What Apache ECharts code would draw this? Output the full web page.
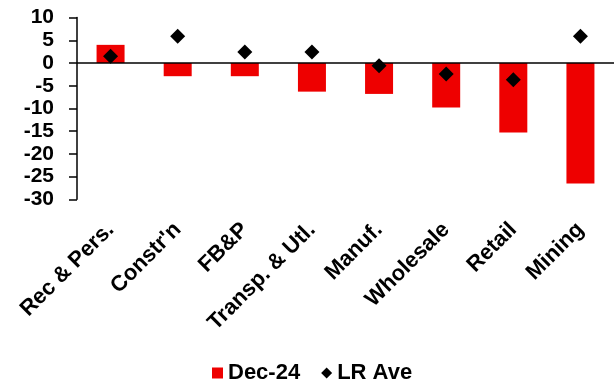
<!DOCTYPE html>
<html>
<head>
<meta charset="utf-8">
<script src="https://cdn.jsdelivr.net/npm/echarts@6/dist/echarts.min.js"></script>
<style>
html,body{margin:0;padding:0;background:#fff;}
#chart{width:614px;height:385px;}
</style>
</head>
<body>
<div id="chart"></div>
<script>
const categories = ['Rec & Pers.', "Constr'n", 'FB&P', 'Transp. & Utl.', 'Manuf.', 'Wholesale', 'Retail', 'Mining'];
const dec24 = [4.0, -2.9, -2.9, -6.3, -6.8, -9.8, -15.3, -26.5];
const lrAve = [1.5, 5.9, 2.4, 2.4, -0.6, -2.4, -3.7, 5.9];
const yMin = -30;
const yMax = 10;
const yStep = 5;

const FONT = "'Liberation Sans', Arial, sans-serif";
const chart = echarts.init(document.getElementById('chart'), null, {renderer: 'canvas'});
chart.setOption({
  animation: false,
  backgroundColor: '#fff',
  grid: {left: 77, right: 0, top: 17.6, bottom: 185.7, containLabel: false},
  legend: {
    left: 207,
    top: 357,
    itemWidth: 11,
    itemHeight: 11,
    itemGap: 21,
    textStyle: {fontFamily: FONT, fontWeight: 'bold', fontSize: 22, color: '#000'},
    data: [
      {name: 'Dec-24', icon: 'rect'},
      {name: 'LR Ave', icon: 'diamond'}
    ]
  },
  xAxis: {
    type: 'category',
    data: categories,
    boundaryGap: true,
    axisLine: {show: false, onZero: false},
    axisTick: {show: false},
    axisLabel: {
      interval: 0,
      rotate: 45,
      margin: 27,
      fontFamily: FONT,
      fontWeight: 'bold',
      fontSize: 22,
      color: '#000'
    },
    splitLine: {show: false}
  },
  yAxis: {
    type: 'value',
    min: yMin,
    max: yMax,
    interval: yStep,
    axisLine: {show: true, onZero: false, lineStyle: {color: '#000', width: 1.5}},
    axisTick: {show: true, length: 8, lineStyle: {color: '#000', width: 1.5}},
    axisLabel: {
      margin: 23,
      fontFamily: FONT,
      fontWeight: 'bold',
      fontSize: 21,
      color: '#000'
    },
    splitLine: {show: false}
  },
  series: [
    {
      name: 'Dec-24',
      type: 'bar',
      data: dec24,
      barWidth: 28,
      itemStyle: {color: '#ee0000'},
      z: 2,
      markLine: {
        silent: true,
        symbol: ['none', 'none'],
        label: {show: false},
        lineStyle: {color: '#000', width: 1.5, type: 'solid'},
        data: [{yAxis: 0}],
        z: 3
      }
    },
    {
      name: 'LR Ave',
      type: 'scatter',
      data: lrAve,
      symbol: 'diamond',
      symbolSize: 15,
      itemStyle: {color: '#000', opacity: 1},
      z: 5
    }
  ]
});
</script>
</body>
</html>
